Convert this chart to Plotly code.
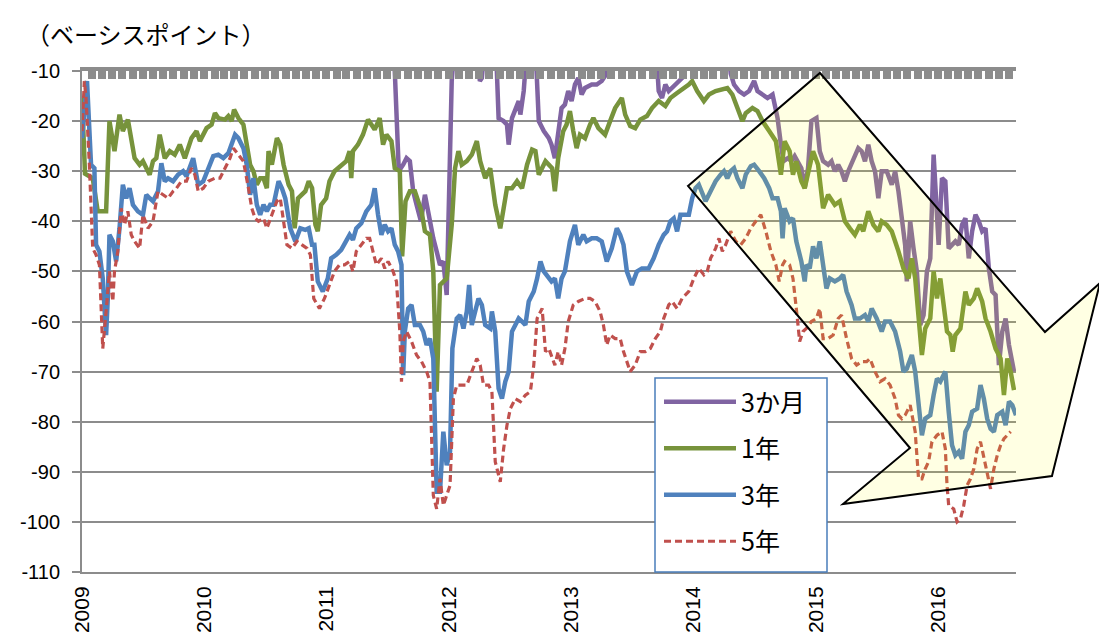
import pandas as pd
import plotly.graph_objects as go

BASE = pd.Timestamp("2009-01-01")

# Observation dates are stored as days elapsed since 2009-01-01; values in basis points.
# 3か月: readings above the -10 ceiling of the axis are stored as -5 (off scale).
m3_days = [931, 946, 959, 969, 979, 989, 999, 1012, 1024, 1039, 1049, 1059, 1069, 1079, 1089,
           1096, 1104, 1112, 1182, 1188, 1194, 1202, 1236, 1244, 1259, 1269, 1274, 1284, 1294,
           1304, 1309, 1319, 1329, 1354, 1364, 1379, 1394, 1402, 1412, 1422, 1432, 1442, 1452,
           1462, 1472, 1482, 1492, 1502, 1522, 1537, 1552, 1562, 1572, 1714, 1722, 1732, 1742,
           1752, 1762, 1772, 1782, 1792, 1802, 1930, 1937, 1947, 1962, 1977, 1992, 2007, 2017,
           2032, 2047, 2062, 2077, 2087, 2095, 2108, 2118, 2128, 2138, 2148, 2158, 2168, 2178,
           2193, 2203, 2213, 2228, 2238, 2248, 2258, 2268, 2278, 2288, 2303, 2318, 2328, 2338,
           2348, 2358, 2368, 2378, 2388, 2403, 2418, 2428, 2438, 2448, 2458, 2463, 2473, 2483,
           2493, 2503, 2513, 2523, 2533, 2543, 2553, 2558, 2568, 2578, 2588, 2598, 2608, 2618,
           2628, 2638, 2648, 2658, 2668, 2678, 2688, 2698, 2708, 2718, 2728, 2738, 2748, 2758,
           2768, 2783]
m3_vals = [-5, -30.0, -28.7, -27.4, -28.0, -34.0, -36.7, -40.0, -34.7, -40.7, -43.4, -46.0, -48.7,
           -48.0, -54.7, -35.0, -12.0, -5, -5, -12.0, -11.4, -5, -5, -19.4, -20.0, -20.7, -24.7,
           -19.4, -17.4, -16.0, -18.7, -14.0, -5, -5, -20.0, -22.0, -23.4, -24.7, -27.4, -22.0,
           -17.4, -16.7, -14.0, -16.0, -12.7, -11.4, -14.7, -13.4, -12.7, -12.7, -12.0, -11.0,
           -5, -5, -14.0, -15.4, -12.7, -14.0, -13.4, -12.7, -12.0, -11.4, -5, -5, -10.5, -12.7,
           -14.0, -14.7, -14.0, -12.0, -14.0, -14.7, -15.4, -14.7, -19.4, -24.7, -28.0, -27.4,
           -28.0, -27.0, -28.0, -29.4, -33.4, -29.4, -20.0, -19.4, -26.0, -28.0, -28.7, -28.0,
           -30.0, -28.7, -30.0, -32.0, -30.0, -27.4, -25.4, -26.0, -28.0, -24.7, -28.0, -30.0,
           -35.4, -30.0, -30.0, -32.7, -30.0, -34.0, -40.0, -44.7, -52.0, -40.0, -45.4, -50.0,
           -60.7, -58.7, -50.0, -47.4, -26.7, -38.0, -44.7, -31.4, -32.0, -45.4, -44.7, -44.0,
           -44.7, -40.7, -39.4, -47.4, -42.0, -38.7, -40.0, -42.0, -41.4, -49.4, -54.0, -54.7,
           -68.7, -62.0, -59.4, -64.7, -70.0]

# 1年
y1_days = [0, 9, 32, 47, 72, 82, 97, 112, 122, 137, 157, 172, 182, 202, 212, 222, 232, 247, 262,
           277, 292, 307, 327, 342, 352, 372, 387, 397, 407, 427, 437, 447, 454, 467, 482, 492,
           502, 512, 522, 532, 542, 552, 557, 567, 582, 592, 602, 617, 627, 635, 645, 667, 677,
           687, 697, 704, 714, 729, 739, 754, 774, 789, 799, 804, 809, 824, 839, 854, 874, 889,
           899, 909, 924, 934, 949, 956, 966, 979, 994, 1014, 1024, 1039, 1049, 1059, 1069, 1089,
           1104, 1114, 1124, 1134, 1149, 1164, 1179, 1189, 1204, 1219, 1234, 1249, 1259, 1269,
           1284, 1299, 1314, 1329, 1344, 1354, 1364, 1384, 1404, 1412, 1422, 1437, 1447, 1457,
           1467, 1477, 1487, 1502, 1517, 1527, 1542, 1562, 1577, 1592, 1612, 1622, 1637, 1652,
           1667, 1687, 1702, 1722, 1742, 1757, 1777, 1792, 1812, 1822, 1837, 1857, 1872, 1892,
           1912, 1927, 1942, 1957, 1972, 1982, 2002, 2017, 2032, 2052, 2072, 2087, 2098, 2113,
           2123, 2133, 2148, 2158, 2168, 2183, 2198, 2213, 2228, 2248, 2263, 2278, 2293, 2308,
           2323, 2333, 2348, 2363, 2378, 2388, 2403, 2418, 2438, 2453, 2468, 2478, 2488, 2498,
           2508, 2518, 2533, 2543, 2553, 2563, 2573, 2583, 2593, 2600, 2608, 2623, 2638, 2648,
           2663, 2673, 2688, 2698, 2713, 2728, 2743, 2753, 2763, 2773, 2783]
y1_vals = [-15.0, -30.5, -31.4, -38.0, -38.0, -20.0, -26.0, -18.7, -22.0, -19.7, -27.4, -28.7,
           -28.0, -30.7, -28.0, -27.4, -22.7, -27.4, -26.0, -26.7, -24.7, -27.4, -23.4, -22.0,
           -24.0, -21.4, -20.7, -18.4, -19.4, -19.7, -19.0, -20.0, -17.7, -19.4, -20.7, -25.4,
           -28.7, -30.0, -32.7, -31.4, -31.4, -33.4, -26.0, -28.7, -23.4, -24.7, -28.7, -32.7,
           -34.0, -41.4, -35.4, -34.0, -32.0, -33.4, -40.7, -42.0, -36.7, -35.4, -32.0, -30.0,
           -29.0, -28.0, -26.0, -31.4, -26.0, -24.7, -22.7, -19.7, -21.7, -19.4, -24.7, -22.7,
           -24.0, -29.4, -30.0, -47.0, -36.0, -34.0, -34.0, -38.0, -42.0, -42.7, -50.0, -74.0,
           -52.7, -51.4, -40.7, -29.4, -26.0, -28.7, -28.0, -26.7, -24.0, -28.0, -31.4, -29.4,
           -36.7, -41.4, -37.4, -33.4, -33.4, -32.0, -33.4, -28.7, -25.7, -26.0, -30.7, -28.0,
           -29.4, -34.0, -27.4, -22.0, -20.7, -18.0, -22.0, -25.4, -22.7, -23.4, -20.7, -19.4,
           -21.4, -22.7, -20.0, -17.4, -15.4, -18.7, -21.0, -21.4, -19.7, -19.0, -17.4, -16.0,
           -17.0, -15.4, -14.4, -13.7, -12.7, -12.0, -14.0, -16.0, -14.7, -14.0, -13.7, -13.4,
           -14.7, -17.4, -20.0, -18.4, -17.4, -18.0, -20.0, -22.0, -24.0, -30.7, -24.0, -26.0,
           -30.7, -28.0, -32.0, -33.4, -30.0, -26.0, -28.7, -37.4, -34.7, -36.7, -36.0, -40.0,
           -41.4, -42.7, -40.7, -42.0, -38.0, -40.7, -42.0, -40.0, -40.7, -42.0, -46.0, -49.4,
           -51.4, -47.4, -51.4, -59.4, -66.7, -61.4, -59.4, -50.0, -55.4, -51.4, -56.0, -62.0,
           -62.7, -66.0, -62.7, -61.4, -54.0, -56.7, -55.4, -53.4, -56.0, -59.4, -62.0, -65.4,
           -67.4, -74.7, -67.4, -70.0, -73.7]

# 3年
y3_days = [0, 15, 27, 37, 42, 52, 62, 72, 77, 82, 92, 102, 112, 122, 132, 142, 152, 167, 182,
           192, 202, 212, 227, 237, 247, 257, 272, 287, 302, 312, 332, 347, 362, 377, 392, 407,
           422, 437, 447, 457, 467, 482, 492, 502, 512, 522, 532, 542, 552, 562, 572, 587, 597,
           607, 622, 637, 652, 667, 677, 687, 694, 704, 719, 734, 744, 759, 774, 789, 799, 809,
           819, 834, 849, 864, 874, 884, 894, 904, 914, 924, 934, 944, 954, 959, 964, 974, 984,
           994, 1009, 1019, 1029, 1039, 1049, 1059, 1069, 1079, 1089, 1099, 1106, 1119, 1129,
           1139, 1149, 1156, 1164, 1174, 1184, 1194, 1204, 1219, 1224, 1234, 1244, 1254, 1264,
           1274, 1284, 1294, 1304, 1314, 1324, 1334, 1349, 1359, 1369, 1379, 1394, 1402, 1412,
           1422, 1432, 1442, 1457, 1472, 1482, 1497, 1507, 1522, 1537, 1552, 1567, 1582, 1597,
           1607, 1617, 1627, 1642, 1657, 1672, 1692, 1707, 1722, 1737, 1747, 1757, 1767, 1777,
           1787, 1802, 1812, 1822, 1832, 1842, 1852, 1862, 1877, 1892, 1907, 1917, 1927, 1937,
           1947, 1957, 1972, 1982, 1997, 2007, 2022, 2037, 2052, 2062, 2077, 2087, 2092, 2098,
           2113, 2123, 2133, 2148, 2158, 2163, 2173, 2183, 2193, 2203, 2213, 2223, 2233, 2248,
           2263, 2273, 2283, 2298, 2308, 2323, 2338, 2348, 2358, 2373, 2388, 2398, 2413, 2428,
           2443, 2453, 2463, 2478, 2488, 2498, 2508, 2518, 2533, 2543, 2553, 2563, 2578, 2588,
           2598, 2608, 2618, 2628, 2638, 2648, 2658, 2673, 2683, 2693, 2703, 2713, 2723, 2733,
           2748, 2758, 2768, 2778, 2789]
y3_vals = [-23.4, -12.0, -28.7, -29.4, -44.7, -46.0, -51.4, -62.7, -55.4, -42.7, -44.0, -48.0,
           -41.4, -32.7, -35.4, -33.4, -36.7, -38.0, -38.7, -34.7, -35.4, -36.0, -34.0, -28.4,
           -32.0, -31.4, -32.0, -30.7, -30.0, -31.0, -27.4, -32.7, -32.0, -29.4, -27.0, -26.7,
           -27.4, -26.4, -24.7, -22.7, -23.4, -25.4, -28.7, -34.7, -31.4, -36.7, -38.7, -36.7,
           -38.0, -36.7, -36.7, -32.0, -33.4, -35.4, -41.4, -44.0, -41.4, -41.7, -41.4, -44.7,
           -44.7, -52.0, -54.0, -51.4, -47.4, -46.7, -45.7, -44.0, -42.7, -43.7, -41.4, -40.4,
           -38.0, -36.7, -33.4, -38.7, -42.7, -40.7, -42.0, -41.4, -44.7, -46.0, -48.7, -70.7,
           -62.0, -57.4, -56.7, -60.7, -60.7, -62.0, -64.7, -63.4, -67.4, -94.0, -94.0, -82.0,
           -88.7, -86.0, -65.4, -59.4, -58.7, -61.4, -58.0, -52.7, -60.7, -58.0, -55.4, -56.7,
           -60.7, -61.4, -58.0, -62.0, -73.4, -75.4, -72.0, -70.0, -62.0, -60.7, -59.4, -60.0,
           -60.7, -56.0, -54.0, -51.4, -48.0, -50.0, -51.4, -52.0, -51.4, -55.4, -51.4, -50.0,
           -44.0, -40.7, -44.7, -42.7, -44.0, -43.4, -43.4, -44.0, -48.0, -45.4, -41.4, -42.7,
           -44.7, -50.0, -52.7, -50.0, -49.4, -49.4, -47.4, -44.7, -42.7, -42.0, -40.0, -39.4,
           -42.0, -38.7, -38.7, -38.7, -35.4, -33.4, -32.7, -34.7, -36.0, -34.0, -32.0, -30.7,
           -30.0, -31.4, -30.0, -29.4, -31.4, -33.4, -30.7, -29.0, -28.7, -30.0, -31.4, -33.4,
           -35.4, -35.4, -38.0, -43.4, -37.4, -40.0, -39.4, -44.0, -48.0, -52.0, -48.7, -49.4,
           -45.0, -47.4, -44.0, -48.7, -53.4, -51.4, -52.0, -51.4, -50.7, -54.0, -56.7, -59.4,
           -59.4, -58.7, -60.0, -57.4, -59.4, -62.0, -60.0, -60.0, -62.0, -66.0, -70.0, -69.4,
           -66.7, -70.0, -76.7, -82.7, -79.4, -78.7, -74.7, -71.4, -72.0, -70.0, -78.0, -84.7,
           -86.7, -86.0, -87.4, -82.0, -80.7, -78.0, -77.4, -72.7, -75.4, -79.4, -81.4, -82.0,
           -78.7, -78.0, -80.7, -76.0, -76.7, -78.7]

# 5年
y5_days = [0, 7, 12, 22, 32, 42, 52, 57, 62, 72, 82, 92, 97, 107, 117, 127, 137, 147, 157, 172,
           182, 197, 212, 227, 242, 257, 272, 282, 297, 312, 327, 337, 347, 362, 377, 397, 412,
           427, 442, 452, 467, 482, 497, 507, 517, 527, 542, 552, 567, 582, 592, 602, 612, 627,
           642, 657, 672, 682, 692, 709, 724, 739, 754, 769, 784, 799, 809, 819, 834, 849, 859,
           869, 879, 894, 904, 914, 929, 939, 949, 954, 959, 969, 984, 999, 1014, 1029, 1039,
           1049, 1059, 1069, 1079, 1089, 1099, 1109, 1119, 1134, 1149, 1164, 1179, 1189, 1199,
           1214, 1224, 1234, 1249, 1259, 1269, 1279, 1294, 1309, 1324, 1339, 1349, 1359, 1374,
           1384, 1394, 1412, 1422, 1432, 1442, 1452, 1467, 1482, 1502, 1517, 1532, 1547, 1557,
           1567, 1577, 1592, 1607, 1617, 1627, 1637, 1652, 1667, 1682, 1697, 1712, 1727, 1737,
           1752, 1762, 1777, 1792, 1802, 1812, 1827, 1842, 1857, 1867, 1877, 1892, 1902, 1912,
           1922, 1937, 1952, 1967, 1982, 1997, 2012, 2027, 2042, 2057, 2072, 2082, 2092, 2098,
           2113, 2123, 2133, 2143, 2153, 2163, 2178, 2193, 2203, 2213, 2228, 2243, 2258, 2268,
           2283, 2298, 2313, 2328, 2343, 2353, 2368, 2383, 2398, 2413, 2428, 2438, 2448, 2458,
           2473, 2488, 2498, 2508, 2518, 2528, 2538, 2553, 2568, 2578, 2583, 2588, 2603, 2613,
           2623, 2633, 2643, 2653, 2663, 2673, 2683, 2693, 2703, 2713, 2723, 2733, 2743, 2753,
           2763, 2773]
y5_vals = [-22.0, -12.0, -15.4, -28.7, -45.4, -46.7, -48.7, -59.4, -65.4, -58.0, -50.0, -56.0,
           -50.0, -46.0, -37.4, -40.7, -38.0, -42.7, -44.0, -45.4, -38.7, -41.4, -40.0, -34.0,
           -34.7, -35.4, -34.0, -33.4, -32.0, -32.0, -29.4, -30.7, -34.0, -33.4, -32.0, -31.4,
           -31.4, -29.4, -27.4, -25.4, -26.7, -28.0, -33.4, -37.4, -39.4, -40.0, -39.4, -41.4,
           -38.7, -36.0, -35.4, -40.0, -44.7, -45.4, -44.0, -44.7, -45.4, -46.7, -55.4, -57.4,
           -55.4, -52.7, -50.0, -48.7, -48.7, -48.0, -50.0, -46.0, -44.7, -43.4, -43.4, -46.0,
           -48.7, -47.4, -49.4, -48.0, -50.0, -52.0, -62.0, -72.0, -64.0, -62.0, -64.0, -66.7,
           -68.0, -70.0, -72.0, -94.7, -97.4, -91.4, -96.7, -94.7, -92.7, -75.4, -72.7, -72.7,
           -72.7, -70.0, -67.4, -68.7, -72.7, -72.7, -74.0, -88.0, -92.0, -85.4, -80.7, -77.4,
           -75.4, -76.0, -74.7, -74.0, -68.7, -59.4, -57.4, -66.0, -65.4, -68.7, -66.0, -68.7,
           -65.4, -60.0, -56.7, -56.0, -55.4, -55.4, -56.0, -58.0, -60.7, -64.7, -62.7, -63.4,
           -63.4, -66.0, -68.0, -70.0, -68.7, -66.0, -66.0, -65.4, -63.4, -62.0, -59.4, -56.7,
           -56.0, -57.4, -55.4, -54.7, -54.0, -51.4, -49.4, -50.7, -50.0, -47.4, -45.4, -43.4,
           -46.0, -44.7, -42.0, -44.0, -44.7, -43.4, -41.4, -40.0, -38.7, -42.0, -46.0, -48.7,
           -52.0, -48.7, -48.0, -48.7, -51.4, -57.4, -64.0, -62.0, -61.4, -60.0, -59.4, -57.4,
           -63.4, -63.4, -62.7, -59.4, -58.7, -63.4, -67.4, -68.7, -68.0, -68.0, -67.4, -70.0,
           -72.0, -71.4, -72.7, -75.4, -78.7, -79.4, -78.7, -76.7, -82.0, -91.4, -91.4, -89.4,
           -88.0, -84.0, -82.7, -82.0, -85.4, -92.7, -96.7, -97.4, -100.0, -99.4, -96.7, -92.7,
           -91.4, -89.4, -85.4, -84.0, -87.4, -90.0, -93.4, -89.4, -86.7, -84.7, -83.4, -82.7,
           -82.0]

year_labels = ["2009", "2010", "2011", "2012", "2013", "2014", "2015", "2016"]
y_ticks = [-110, -100, -90, -80, -70, -60, -50, -40, -30, -20, -10]
y_tick_labels = ["-110", "-100", "-90", "-80", "-70", "-60", "-50", "-40", "-30", "-20", "-10"]

# ---- layout geometry (pixels in the 1099 x 637 page) ----
FIG_W, FIG_H = 1099, 637
L, T, W, H = 82, 71, 934, 501


def fx(px):
    return (px - L) / W


def fy(py):
    return (T + H - py) / H


# outline of the downward trend arrow, in page pixels
arrow_px = [(688, 186), (820, 73), (1045, 332), (1100, 283), (1052, 476), (843, 504), (910, 448)]
arrow_path = "M " + " L ".join(f"{fx(x):.4f},{fy(y):.4f}" for x, y in arrow_px) + " Z"

# legend frame, in page pixels
LEG_BOX = (655, 378, 827, 572)

GRID = "#8c8c8c"
NUM_FONT = "Liberation Sans, Arial, sans-serif"
JP_FONT = "Noto Sans CJK JP, sans-serif"


def to_dates(days):
    return BASE + pd.to_timedelta(days, unit="D")


series = [
    ("3か月", m3_days, m3_vals, dict(color="#8064a2", width=4.5)),
    ("1年", y1_days, y1_vals, dict(color="#77933c", width=4.5)),
    ("3年", y3_days, y3_vals, dict(color="#4f81bd", width=4.5)),
    ("5年", y5_days, y5_vals, dict(color="#c0504d", width=3.2, dash="7px,4px")),
]

fig = go.Figure()
for name, days, vals, line in series:
    fig.add_trace(go.Scatter(
        x=to_dates(days), y=vals, name=name, mode="lines",
        line=dict(shape="linear", **line), legendgroup=name,
    ))

x_end = BASE + pd.Timedelta(days=2789)

# carrier trace for the monthly tick axis along the top edge
fig.add_trace(go.Scatter(
    x=[BASE, x_end], y=[None, None], xaxis="x2",
    showlegend=False, hoverinfo="skip", mode="lines",
))

year_vals = [pd.Timestamp(f"{y}-01-01") for y in year_labels]

fig.update_layout(
    width=FIG_W, height=FIG_H,
    margin=dict(l=L, r=FIG_W - L - W, t=T, b=FIG_H - T - H, pad=0, autoexpand=False),
    paper_bgcolor="white", plot_bgcolor="white",
    showlegend=True,
    xaxis=dict(
        range=[BASE, x_end], tickvals=year_vals, ticktext=year_labels,
        tickangle=-90, ticks="", showgrid=False, zeroline=False,
        showline=True, linecolor=GRID, linewidth=2, automargin=False,
        tickfont=dict(family=NUM_FONT, size=21, color="black"),
        ticklabelstandoff=4,
    ),
    xaxis2=dict(
        overlaying="x", side="top", anchor="y", range=[BASE, x_end],
        showline=True, linecolor=GRID, linewidth=4, automargin=False,
        ticks="inside", ticklen=8, tickwidth=8, tickcolor=GRID,
        dtick="M1", tick0="2009-01-01", showticklabels=False, showgrid=False,
        zeroline=False,
    ),
    yaxis=dict(
        range=[-110, -10], tickvals=y_ticks, ticktext=y_tick_labels,
        ticks="outside", ticklen=8, automargin=False,
        tickcolor=GRID, tickwidth=1.5, showgrid=True, gridcolor=GRID, gridwidth=1.5,
        zeroline=False, showline=True, linecolor=GRID, linewidth=2,
        tickfont=dict(family=NUM_FONT, size=20, color="black"),
        ticklabelstandoff=8,
    ),
    legend=dict(
        x=fx(LEG_BOX[0] + 4), y=fy(LEG_BOX[1] + 1), xanchor="left", yanchor="top",
        bgcolor="rgba(0,0,0,0)", borderwidth=0,
        font=dict(family=JP_FONT, size=25, color="black"),
        itemwidth=72, tracegroupgap=11, traceorder="grouped",
    ),
    shapes=[
        dict(
            type="path", path=arrow_path, xref="paper", yref="paper",
            fillcolor="rgba(255,255,0,0.11)", line=dict(color="black", width=2),
            layer="above",
        ),
        dict(
            type="rect", xref="paper", yref="paper",
            x0=fx(LEG_BOX[0]), x1=fx(LEG_BOX[2]), y0=fy(LEG_BOX[3]), y1=fy(LEG_BOX[1]),
            fillcolor="white", line=dict(color="#4a7ebb", width=1.5), layer="above",
        ),
    ],
    annotations=[dict(
        text="（ベーシスポイント）", x=fx(24), y=fy(33), xref="paper", yref="paper",
        xanchor="left", yanchor="middle", showarrow=False,
        font=dict(family=JP_FONT, size=24, color="black"),
    )],
)

fig.write_html("out.html")
